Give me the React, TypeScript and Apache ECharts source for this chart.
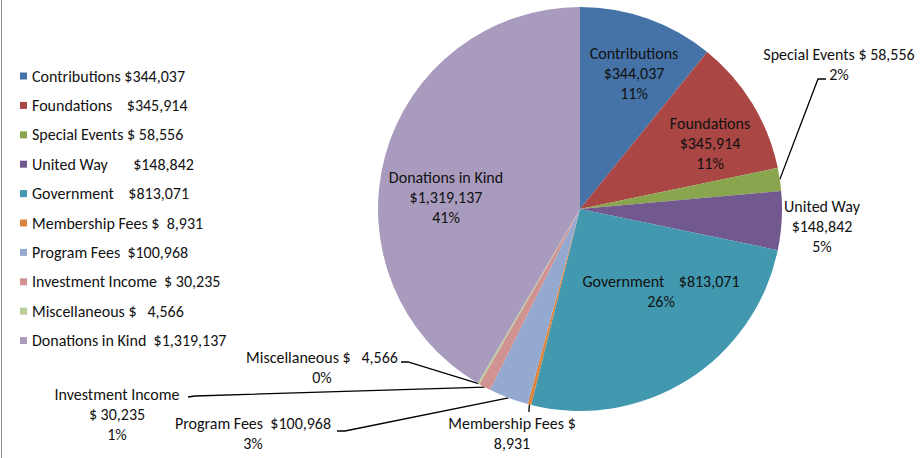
import React, { useEffect, useRef } from "react";
import * as echarts from "echarts";

const categories = [
  "Contributions",
  "Foundations",
  "Special Events",
  "United Way",
  "Government",
  "Membership Fees",
  "Program Fees",
  "Investment Income",
  "Miscellaneous",
  "Donations in Kind",
];
const values = [344037, 345914, 58556, 148842, 813071, 8931, 100968, 30235, 4566, 1319137];
const legendText = [
  "Contributions $344,037",
  "Foundations    $345,914",
  "Special Events $ 58,556",
  "United Way       $148,842",
  "Government    $813,071",
  "Membership Fees $  8,931",
  "Program Fees  $100,968",
  "Investment Income  $ 30,235",
  "Miscellaneous $   4,566",
  "Donations in Kind  $1,319,137",
];
const labelText = [
  "Contributions\n$344,037",
  "Foundations\n$345,914",
  "Special Events $ 58,556",
  "United Way\n$148,842",
  "Government    $813,071",
  "Membership Fees $\n8,931",
  "Program Fees  $100,968",
  "Investment Income\n$ 30,235",
  "Miscellaneous $   4,566",
  "Donations in Kind\n$1,319,137",
];
const colors = [
  "#4572A7",
  "#AA4643",
  "#89A54E",
  "#71588F",
  "#4198AF",
  "#DB843D",
  "#93A9CF",
  "#D19392",
  "#B9CD96",
  "#A99BBD",
];

// label layout (positions only)
const insideIdx = [0, 1, 4, 9];
const labelPos: Record<number, [number, number]> = {
  0: [634, 73],
  1: [710, 143],
  2: [839, 64],
  3: [822, 226],
  4: [661, 291],
  5: [512, 443],
  6: [253, 433],
  7: [117, 414],
  8: [322, 367],
  9: [446, 197],
};
const linePts: Record<number, [number, number][]> = {
  2: [[818, 79], [826, 79]],
  5: [[529, 409], [529, 412]],
  6: [[345, 431], [337, 431]],
  7: [[195, 396], [188, 397]],
  8: [[408, 362], [401, 362]],
};

const FONT = "Carlito, 'Noto Sans', sans-serif";
const FS = 16;
const keepSpaces = (s: string) => s.replace(/ {2,}/g, (m) => "\u00a0".repeat(m.length));

export default function App() {
  const ref = useRef<HTMLDivElement>(null);
  useEffect(() => {
    const chart = echarts.init(ref.current!, undefined, { renderer: "svg" });
    const data = categories.map((name, i) => ({
      name,
      value: values[i],
      itemStyle: { color: colors[i] },
      label: {
        position: insideIdx.includes(i) ? "inside" : "outside",
      },
      labelLine: { show: !!linePts[i] },
    }));
    chart.setOption({
      animation: false,
      graphic: [
        {
          type: "line",
          shape: { x1: 1.5, y1: 0, x2: 1.5, y2: 458 },
          style: { stroke: "#8c8c8c", lineWidth: 1 },
        },
      ],
      legend: {
        orient: "vertical",
        left: 15,
        top: 63,
        icon: "rect",
        itemWidth: 7,
        itemHeight: 7,
        itemGap: 13.4,
        selectedMode: false,
        data: categories,
        formatter: (name: string) => keepSpaces(legendText[categories.indexOf(name)]),
        textStyle: { fontFamily: FONT, fontSize: FS, color: "#111", lineHeight: 16 },
      },
      series: [
        {
          type: "pie",
          center: [580, 209],
          radius: 202,
          startAngle: 90,
          clockwise: true,
          percentPrecision: 0,
          avoidLabelOverlap: false,
          emphasis: { disabled: true },
          itemStyle: { borderWidth: 0 },
          label: {
            show: true,
            fontFamily: FONT,
            fontSize: FS,
            lineHeight: 20,
            color: "#111",
            align: "center",
            formatter: (p: any) =>
              keepSpaces(labelText[p.dataIndex]) + "\n" + Math.round(p.percent) + "%",
          },
          labelLine: {
            show: true,
            length: 10,
            length2: 10,
            lineStyle: { color: "#000", width: 1.3 },
          },
          labelLayout: (p: any) => {
            const i = p.dataIndex;
            const pos = labelPos[i];
            const res: any = { x: pos[0], y: pos[1], align: "center", verticalAlign: "middle" };
            if (linePts[i] && p.labelLinePoints) {
              res.labelLinePoints = [p.labelLinePoints[0], ...linePts[i]];
            }
            return res;
          },
          data,
        },
      ],
    });
    return () => chart.dispose();
  }, []);
  return (
    <div
      ref={ref}
      style={{ position: "fixed", left: 0, top: 0, width: 920, height: 458, background: "#fff" }}
    />
  );
}
